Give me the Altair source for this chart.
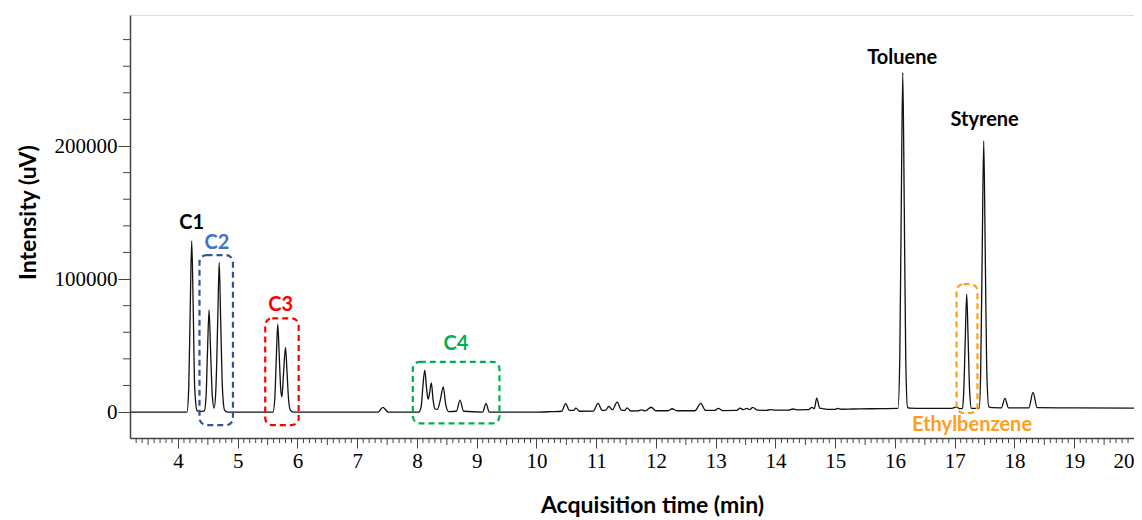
import altair as alt
import pandas as pd

# ---- chromatogram trace ----
time_min = [
    3.20, 4.15, 4.18, 4.205, 4.23, 4.255, 4.28, 4.32, 4.36,
    4.44, 4.47, 4.495, 4.52, 4.545, 4.575, 4.605, 4.635, 4.665, 4.69, 4.715, 4.745, 4.78, 4.83,
    5.59, 5.62, 5.645, 5.67, 5.695, 5.72, 5.74, 5.765, 5.80, 5.825, 5.85, 5.88, 5.93,
    7.35, 7.43, 7.52,
    8.03, 8.07, 8.10, 8.13, 8.16, 8.185, 8.21, 8.24, 8.27, 8.30, 8.34, 8.39, 8.44, 8.48, 8.53,
    8.66, 8.72, 8.78, 9.10, 9.155, 9.21,
    10.0, 10.25, 10.42, 10.49, 10.55, 10.62, 10.66, 10.72, 10.95, 11.03, 11.10, 11.16, 11.21,
    11.27, 11.35, 11.42, 11.48, 11.515, 11.58, 11.70, 11.75, 11.82, 11.92, 12.0, 12.20, 12.27,
    12.35, 12.65, 12.75, 12.83, 12.98, 13.04, 13.12, 13.35, 13.41, 13.46, 13.52, 13.57, 13.62,
    13.70, 13.85, 13.91, 14.0, 14.22, 14.29, 14.36, 14.55, 14.61, 14.65, 14.69, 14.74, 14.79,
    14.86, 15.00, 15.04, 15.10, 15.30, 15.60,
    16.05, 16.08, 16.105, 16.13, 16.155, 16.18, 16.21, 16.25,
    16.50, 16.95, 17.03, 17.08,
    17.13, 17.15, 17.175, 17.20, 17.225, 17.25, 17.28, 17.33,
    17.41, 17.435, 17.46, 17.485, 17.51, 17.535, 17.57, 17.62,
    17.78, 17.84, 17.90, 18.24, 18.31, 18.38, 19.00, 20.0,
]
intensity_uv = [
    0, 0, 18000, 78000, 128600, 78000, 18000, 1000, 300,
    800, 12000, 47000, 76700, 47000, 12000, 3000, 18000, 68000, 112500, 68000, 17000, 1500, 0,
    0, 10000, 40000, 66000, 42000, 17000, 11500, 28000, 48600, 30000, 10000, 1500, 0,
    0, 3500, 0,
    0, 4000, 20000, 31600, 18000, 9800, 14000, 22000, 9000, 2500, 2000, 9000, 19000, 6000, 400,
    600, 9000, 600, 0, 6500, 0,
    0, 300, 600, 6300, 1200, 1200, 3000, 600, 700, 6500, 1200, 1500, 4200,
    1800, 7500, 1500, 1300, 3200, 800, 900, 1600, 900, 3600, 1000, 1000, 2500,
    1000, 1000, 6500, 1200, 1200, 2800, 1100, 1200, 3000, 1800, 2800, 1800, 3500,
    1400, 1300, 1800, 1400, 1500, 2300, 1700, 1800, 3500, 2500, 10500, 3000, 2600,
    2000, 2000, 2700, 2100, 2300, 2500,
    2700, 40000, 155000, 255000, 155000, 40000, 3500, 2900,
    2800, 2800, 3800, 2600,
    2800, 15000, 53000, 88700, 53000, 15000, 2800, 2700,
    3000, 33000, 122000, 203800, 122000, 33000, 4000, 3300,
    3200, 10300, 3200, 3200, 14800, 3300, 3100, 3000,
]

# ---- dashed group boxes ----
box_name = ["C2", "C3", "C4", "Ethylbenzene"]
box_x1 = [4.36, 5.46, 7.93, 17.03]
box_x2 = [4.92, 6.02, 9.38, 17.38]
box_y1 = [-9800, -9800, -8500, -700]
box_y2 = [118000, 70500, 37800, 96200]
box_color = ["#2F5597", "#FF0000", "#00B050", "#FF9E1B"]

# ---- peak labels ----
label_text = ["C1", "C2", "C3", "C4", "Toluene", "Styrene", "Ethylbenzene"]
label_x = [4.23, 4.65, 5.72, 8.65, 16.12, 17.50, 17.29]
label_y = [142000, 127000, 80500, 51000, 266000, 219500, -9800]
label_color = ["#000000", "#4472C4", "#FF0000", "#00B050", "#000000", "#000000", "#FF9E1B"]

# ---- axis ticks ----
x_major_ticks = list(range(4, 21))
x_half_ticks = [3.5 + i for i in range(17)]
x_minor_ticks = [round(3.3 + 0.1 * i, 1) for i in range(168)
                 if (i + 3) % 5 != 0]
y_major_ticks = [0, 100000, 200000]
y_minor_ticks = [20000, 40000, 60000, 80000, 120000, 140000, 160000, 180000,
                 220000, 240000, 260000, 280000]

trace = pd.DataFrame({"t": time_min, "v": intensity_uv})
boxes = pd.DataFrame({"name": box_name, "x1": box_x1, "x2": box_x2,
                      "y1": box_y1, "y2": box_y2, "color": box_color})
labels = pd.DataFrame({"text": label_text, "x": label_x, "y": label_y, "color": label_color})

W, H = 1004, 423
x_scale = alt.Scale(domain=[3.197, 20.0], nice=False, zero=False)
y_scale = alt.Scale(domain=[-19500, 298500], nice=False, zero=False)

AX = "#444444"
x_axis = alt.Axis(
    values=x_major_ticks, format="d", tickSize=10,
    labelFont="Liberation Serif", labelFontSize=21, labelColor="#000000",
    labelPadding=2, labelFlush=True,
    domainColor=AX, domainWidth=1.5, tickColor=AX, tickWidth=1,
    grid=False,
    title="Acquisition time (min)", titleFont="Lato", titleFontSize=23,
    titleFontWeight="bold", titleColor="#000000",
    titleX=522, titleY=74, titleBaseline="alphabetic",
)
y_axis = alt.Axis(
    values=y_major_ticks, format="d", tickSize=12,
    labelFont="Liberation Serif", labelFontSize=21, labelColor="#000000",
    labelPadding=1, labelFlush=False,
    domainColor=AX, domainWidth=1.5, tickColor=AX, tickWidth=1,
    grid=False,
    title="Intensity (uV)", titleFont="Lato", titleFontSize=23,
    titleFontWeight="bold", titleColor="#000000",
    titleX=-102, titleY=197, titleAngle=-90, titleBaseline="middle",
)

line = alt.Chart(trace).mark_line(color="#111111", strokeWidth=1.3, interpolate="monotone").encode(
    x=alt.X("t:Q", scale=x_scale, axis=x_axis),
    y=alt.Y("v:Q", scale=y_scale, axis=y_axis),
)

xminor = alt.Chart(pd.DataFrame({"t": x_minor_ticks})).mark_rule(color=AX, strokeWidth=1).encode(
    x=alt.X("t:Q", scale=x_scale, axis=x_axis), y=alt.value(H), y2=alt.value(H + 5),
)
xhalf = alt.Chart(pd.DataFrame({"t": x_half_ticks})).mark_rule(color=AX, strokeWidth=1).encode(
    x=alt.X("t:Q", scale=x_scale, axis=x_axis), y=alt.value(H), y2=alt.value(H + 7),
)
yminor = alt.Chart(pd.DataFrame({"v": y_minor_ticks})).mark_rule(color=AX, strokeWidth=1).encode(
    y=alt.Y("v:Q", scale=y_scale, axis=y_axis), x=alt.value(-7), x2=alt.value(0),
)

rects = alt.Chart(boxes).mark_rect(
    fillOpacity=0, strokeWidth=2.2, strokeDash=[6, 4], cornerRadius=7
).encode(
    x=alt.X("x1:Q", scale=x_scale, axis=x_axis), x2="x2",
    y=alt.Y("y1:Q", scale=y_scale, axis=y_axis), y2="y2",
    stroke=alt.Stroke("color:N", scale=None),
)

texts = alt.Chart(labels).mark_text(
    font="Lato", fontSize=20, fontWeight="bold", baseline="middle", align="center"
).encode(
    x=alt.X("x:Q", scale=x_scale, axis=x_axis),
    y=alt.Y("y:Q", scale=y_scale, axis=y_axis),
    text="text:N",
    color=alt.Color("color:N", scale=None),
)

chart = alt.layer(xminor, xhalf, yminor, line, rects, texts).properties(
    width=W, height=H,
    autosize=alt.AutoSizeParams(type="none"),
    padding={"left": 122, "top": 7, "right": 0, "bottom": 82},
).configure_view(stroke=AX, strokeWidth=1.5).configure(background="white")

chart.save("out.html", embed_options={"renderer": "svg", "actions": False})
